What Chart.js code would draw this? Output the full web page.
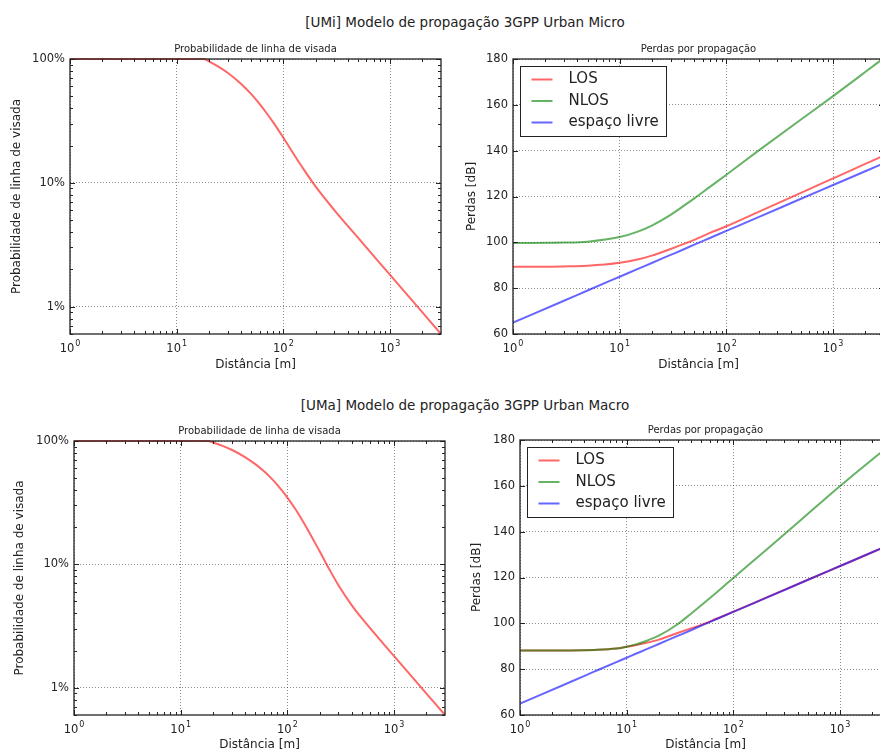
<!DOCTYPE html>
<html>
<head>
<meta charset="utf-8">
<script src="https://cdn.jsdelivr.net/npm/chart.js@4.4.0/dist/chart.umd.min.js"></script>
<style>
  html, body { margin: 0; padding: 0; background: #fff; }
  body { width: 880px; height: 751px; overflow: hidden; position: relative; font-family: "DejaVu Sans", sans-serif; }
  .sup { position: absolute; left: 0; width: 930px; text-align: center; font-size: 13.5px; color: #222; white-space: nowrap; }
  canvas { position: absolute; }
</style>
</head>
<body>
<div class="sup" style="top:14px">[UMi] Modelo de propagação 3GPP Urban Micro</div>
<div class="sup" style="top:397px">[UMa] Modelo de propagação 3GPP Urban Macro</div>
<canvas id="umiProb" width="446" height="332" style="left:0;top:43px"></canvas>
<canvas id="umiLoss" width="445" height="332" style="left:445px;top:43px"></canvas>
<canvas id="umaProb" width="450" height="330" style="left:0;top:425px"></canvas>
<canvas id="umaLoss" width="452" height="331" style="left:445px;top:424px"></canvas>
<script>
// === DATA ===
const xTickValues = [1, 10, 100, 1000];
const xTickBase = '10';
const xTickExps = ['0', '1', '2', '3'];
const probTickValues = [1, 10, 100];
const probTickLabels = ['1%', '10%', '100%'];
const seriesNames = ['LOS', 'NLOS', 'espaço livre'];

// line-of-sight probability [%]
const umiProbDist = [1, 5, 10, 18, 20, 25, 30, 40, 50, 60, 70, 80, 100, 120, 150, 200, 300, 500, 1000, 2000, 3000];
const umiProbLos  = [100, 100, 100, 100, 95.7, 86, 77.4, 63.1, 52, 43.2, 36.3, 30.9, 23.1, 18.0, 13.4, 9.35, 6.02, 3.6, 1.8, 0.9, 0.6];
const umaProbDist = [1, 5, 10, 18, 20, 25, 30, 40, 50, 60, 70, 80, 100, 120, 150, 200, 250, 300, 400, 500, 1000, 2000, 3000];
const umaProbLos  = [100, 100, 100, 100, 97.3, 90.8, 84.9, 74.1, 64.9, 57.0, 50.2, 44.3, 34.8, 27.7, 20.1, 12.8, 8.95, 6.8, 4.67, 3.64, 1.8, 0.9, 0.6];

// path loss [dB]
const umiDist = [1, 3, 5, 10, 15, 20, 30, 40, 50, 70, 100, 200, 500, 1000, 2000, 3000];
const umiLos  = [89.3, 89.5, 89.8, 91.1, 92.6, 94.2, 97.1, 99.3, 101.1, 104.1, 107.0, 113.3, 121.6, 127.9, 134.2, 137.9];
const umiNlos = [99.7, 99.9, 100.3, 102.3, 104.8, 107.3, 112.0, 116.0, 119.2, 124.2, 129.5, 140.0, 153.6, 163.8, 174.3, 180.5];
const umiFree = [65, 74.5, 79, 85, 88.5, 91, 94.5, 97, 99, 101.9, 105, 111, 119, 125, 131, 134.5];

const umaDist = [1, 3, 5, 8, 10, 12, 15, 20, 30, 40, 50, 70, 100, 200, 500, 1000, 2000, 3000];
const umaLos  = [88.2, 88.2, 88.4, 89.0, 89.8, 90.4, 91.4, 92.9, 95.8, 97.8, 99.3, 102.1, 105.1, 111.1, 119.0, 125.0, 131.0, 134.6];
const umaNlos = [88.2, 88.2, 88.4, 89.0, 89.8, 90.7, 92.2, 94.6, 99.6, 104.2, 107.9, 113.6, 119.8, 131.8, 147.8, 159.9, 171.5, 178.0];
const umaFree = [65, 74.5, 79, 83.1, 85, 86.6, 88.5, 91, 94.5, 97, 99, 101.9, 105, 111, 119, 125, 131, 134.5];
// =====================================

const RED = 'rgba(255,0,0,0.6)';
const GREEN = 'rgba(0,128,0,0.6)';
const BLUE = 'rgba(0,0,255,0.6)';
const TXT = '#222';
const GRID = 'rgba(0,0,0,0.45)';
const FONT = '"DejaVu Sans", sans-serif';

const pts = (xs, ys) => xs.map((x, i) => ({ x, y: ys[i] }));

function logMinors(min, max) {
  const out = [];
  for (let k = -2; k <= 4; k++)
    for (let m = 2; m <= 9; m++) {
      const v = m * Math.pow(10, k);
      if (v > min && v < max) out.push(v);
    }
  return out;
}

// black frame, inward tick marks and 10^n labels like matplotlib
const framePlugin = {
  id: 'frame',
  afterDraw(chart) {
    const { ctx, chartArea: a, scales } = chart;
    ctx.save();
    ctx.strokeStyle = TXT;
    ctx.lineWidth = 1;
    ctx.beginPath();
    const tx = (v, len) => {
      const x = Math.round(scales.x.getPixelForValue(v)) + 0.5;
      ctx.moveTo(x, a.bottom); ctx.lineTo(x, a.bottom - len);
      ctx.moveTo(x, a.top); ctx.lineTo(x, a.top + len);
    };
    const ty = (v, len) => {
      const y = Math.round(scales.y.getPixelForValue(v)) + 0.5;
      ctx.moveTo(a.left, y); ctx.lineTo(a.left + len, y);
      ctx.moveTo(a.right, y); ctx.lineTo(a.right - len, y);
    };
    xTickValues.forEach(v => tx(v, 5));
    logMinors(scales.x.min, scales.x.max).forEach(v => tx(v, 3));
    scales.y.ticks.forEach(t => ty(t.value, 5));
    if (scales.y.type === 'logarithmic') logMinors(scales.y.min, scales.y.max).forEach(v => ty(v, 3));
    ctx.stroke();
    ctx.lineWidth = 1.3;
    ctx.strokeRect(a.left, a.top, a.width, a.height);

    // x tick labels: "10" with raised exponent
    ctx.fillStyle = TXT;
    ctx.textBaseline = 'alphabetic';
    ctx.textAlign = 'left';
    xTickValues.forEach((v, i) => {
      const x = scales.x.getPixelForValue(v);
      ctx.font = '11.5px ' + FONT;
      const wb = ctx.measureText(xTickBase).width;
      ctx.font = '8px ' + FONT;
      const we = ctx.measureText(xTickExps[i]).width;
      const x0 = x - (wb + we + 1) / 2;
      const base = a.bottom + 18;
      ctx.font = '11.5px ' + FONT;
      ctx.fillText(xTickBase, x0, base);
      ctx.font = '8px ' + FONT;
      ctx.fillText(xTickExps[i], x0 + wb + 1, base - 6);
    });
    ctx.restore();
  }
};

// legend box inside the plot, upper left
const boxLegend = {
  id: 'boxLegend',
  afterDraw(chart) {
    const { ctx, chartArea: a } = chart;
    const ds = chart.data.datasets;
    ctx.save();
    ctx.font = '15px ' + FONT;
    const w = Math.round(48 + Math.max(...ds.map(d => ctx.measureText(d.label).width)) + 8);
    const h = 70;
    const x = Math.round(a.left + 7) + 0.5, y = Math.round(a.top + 7) + 0.5;
    ctx.fillStyle = '#fff';
    ctx.fillRect(x, y, w, h);
    ctx.strokeStyle = TXT;
    ctx.lineWidth = 1;
    ctx.strokeRect(x, y, w, h);
    ds.forEach((d, i) => {
      const cy = y + 13 + i * 21.5;
      ctx.strokeStyle = d.borderColor;
      ctx.lineWidth = 2;
      ctx.beginPath(); ctx.moveTo(x + 11, cy); ctx.lineTo(x + 32, cy); ctx.stroke();
      ctx.fillStyle = TXT;
      ctx.textBaseline = 'middle';
      ctx.fillText(d.label, x + 48, cy);
    });
    ctx.restore();
  }
};

function xAxis(height) {
  return {
    type: 'logarithmic', min: 1, max: 3000,
    afterBuildTicks: s => { s.ticks = xTickValues.map(v => ({ value: v })); },
    afterFit: s => { s.height = height; },
    ticks: { display: false },
    grid: { color: GRID, lineWidth: 1, drawTicks: false },
    border: { display: false, dash: [1, 2] },
    title: { display: true, text: 'Distância [m]', font: { family: FONT, size: 12 }, color: TXT, padding: { top: 0, bottom: 3 } }
  };
}

function makeChart(id, o) {
  const log = o.yType === 'logarithmic';
  return new Chart(document.getElementById(id), {
    type: 'line',
    data: { datasets: o.datasets },
    options: {
      responsive: false, animation: false, devicePixelRatio: 1,
      layout: { padding: { left: 0, right: o.padRight, top: 0, bottom: 0 } },
      elements: { point: { radius: 0 }, line: { borderWidth: 2, cubicInterpolationMode: 'monotone' } },
      plugins: {
        legend: { display: false },
        tooltip: { enabled: false },
        title: { display: true, fullSize: false, text: o.title, font: { family: FONT, size: 10, weight: 'normal' }, color: TXT, padding: { top: 0, bottom: 4 } }
      },
      scales: {
        x: xAxis(o.xHeight),
        y: {
          type: o.yType, min: o.yMin, max: o.yMax,
          afterBuildTicks: log ? (s => { s.ticks = probTickValues.map(v => ({ value: v })); }) : undefined,
          afterFit: s => { s.width = o.yWidth; },
          ticks: {
            stepSize: 20,
            callback: log ? ((v, i) => probTickLabels[i]) : (v => v),
            font: { family: FONT, size: 11.5 }, color: TXT, padding: 5
          },
          grid: { color: GRID, lineWidth: 1, drawTicks: false },
          border: { display: false, dash: [1, 2] },
          title: { display: true, text: o.yTitle, font: { family: FONT, size: 12 }, color: TXT, padding: { top: o.yTitlePad, bottom: 0 } }
        }
      }
    },
    plugins: o.legend ? [framePlugin, boxLegend] : [framePlugin]
  });
}

function lossSets(d, los, nlos, free) {
  return [
    { label: seriesNames[0], data: pts(d, los), borderColor: RED, order: 3 },
    { label: seriesNames[1], data: pts(d, nlos), borderColor: GREEN, order: 2 },
    { label: seriesNames[2], data: pts(d, free), borderColor: BLUE, order: 1 }
  ];
}

makeChart('umiProb', {
  title: 'Probabilidade de linha de visada', yType: 'logarithmic', yMin: 0.6, yMax: 100,
  yTitle: 'Probabilidade de linha de visada', yTitlePad: 10, yWidth: 70, xHeight: 41, padRight: 5,
  datasets: [{ label: 'LOS', data: pts(umiProbDist, umiProbLos), borderColor: RED, clip: false }]
});
makeChart('umiLoss', {
  title: 'Perdas por propagação', yType: 'linear', yMin: 60, yMax: 180,
  yTitle: 'Perdas [dB]', yTitlePad: 20, yWidth: 68, xHeight: 41, padRight: 6, legend: true,
  datasets: lossSets(umiDist, umiLos, umiNlos, umiFree)
});
makeChart('umaProb', {
  title: 'Probabilidade de linha de visada', yType: 'logarithmic', yMin: 0.6, yMax: 100,
  yTitle: 'Probabilidade de linha de visada', yTitlePad: 13, yWidth: 74, xHeight: 40, padRight: 5,
  datasets: [{ label: 'LOS', data: pts(umaProbDist, umaProbLos), borderColor: RED, clip: false }]
});
makeChart('umaLoss', {
  title: 'Perdas por propagação', yType: 'linear', yMin: 60, yMax: 180,
  yTitle: 'Perdas [dB]', yTitlePad: 25, yWidth: 75, xHeight: 40, padRight: 6, legend: true,
  datasets: lossSets(umaDist, umaLos, umaNlos, umaFree)
});
</script>
</body>
</html>
